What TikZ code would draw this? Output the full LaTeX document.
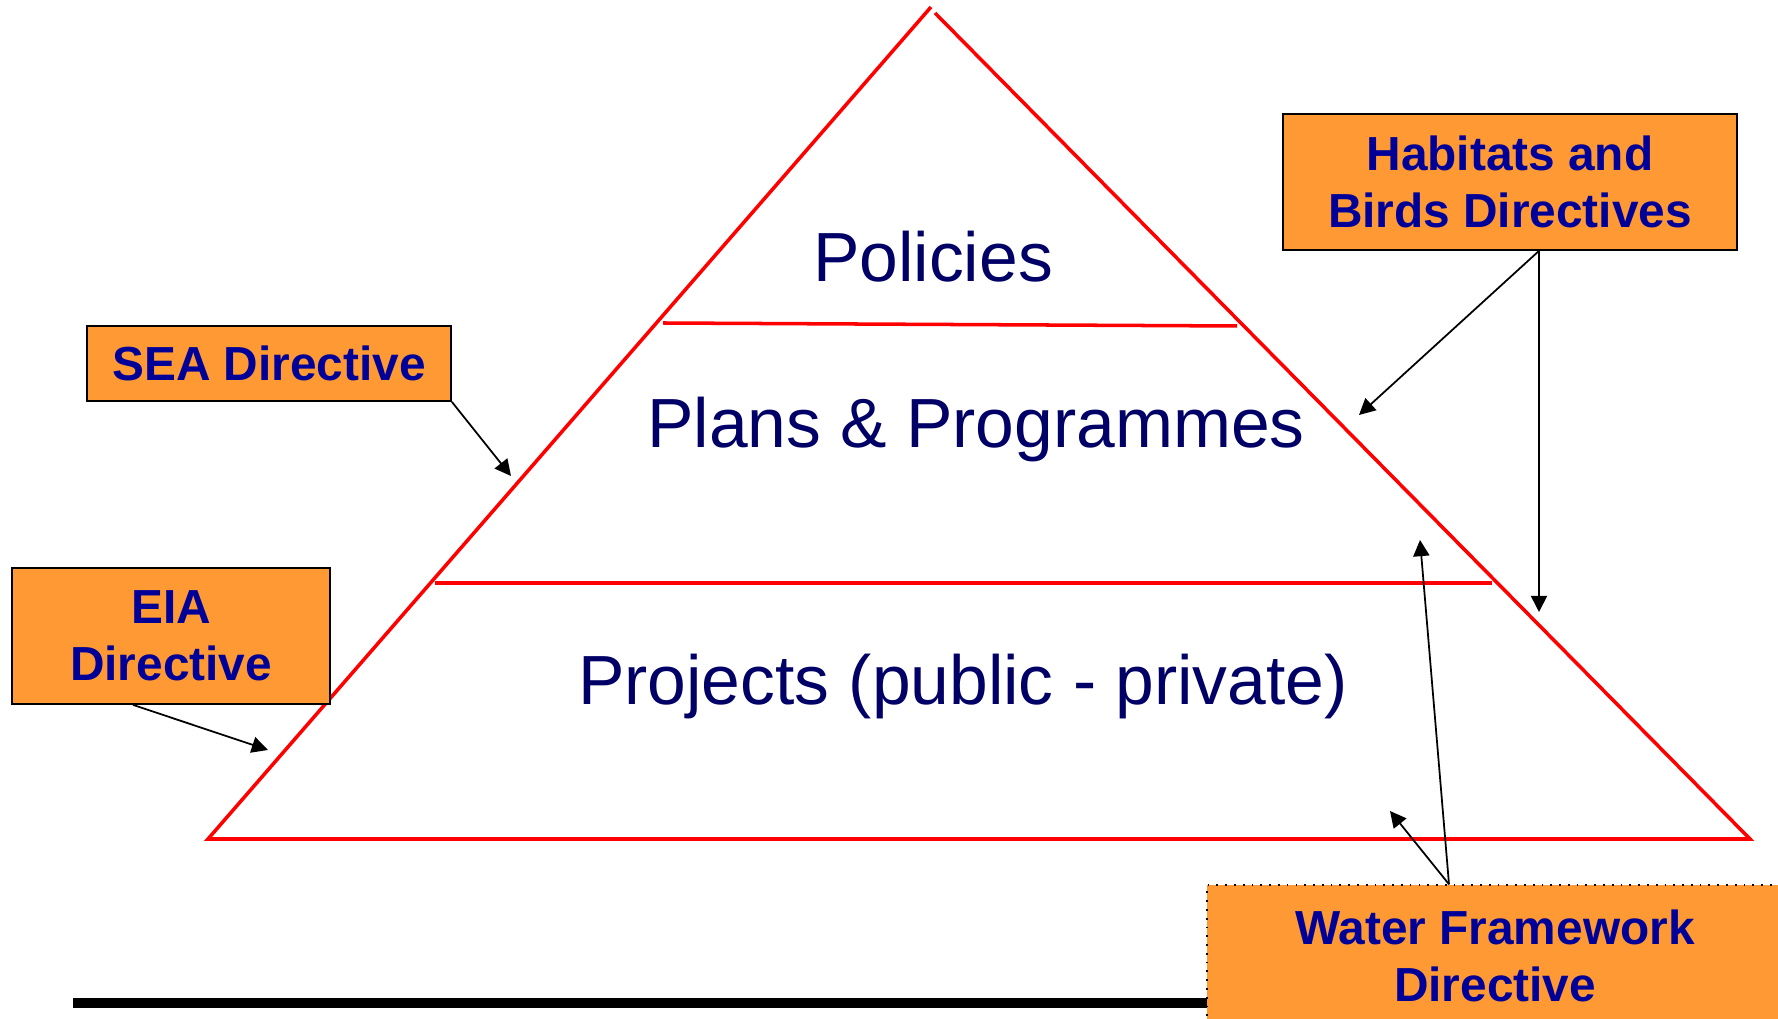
\documentclass[tikz,border=0pt]{standalone}
\usepackage{fontspec}
\setmainfont{Liberation Sans}
\usepackage{tikz}
\usetikzlibrary{arrows.meta, calc}

\definecolor{boxorange}{RGB}{255,153,51}
\definecolor{boxblue}{RGB}{0,0,153}
\definecolor{pyrblue}{RGB}{0,0,102}

\tikzset{
  redline/.style={red, line width=1pt},
  pyrlabel/.style={anchor=base, text=pyrblue, font=\fontsize{19.8}{23.8}\selectfont},
  directive/.style={draw=black, line width=0.5pt, fill=boxorange, text=boxblue,
    align=center, inner sep=0pt, font=\fontsize{13.6}{16.2}\selectfont\bfseries},
  pointer/.style={-{Triangle[length=4.6pt, width=4.6pt]}, black, line width=0.5pt}
}

\begin{document}
\begin{tikzpicture}
\clip (0, 0) rectangle (17.78, 10.19);
\fill[white] (0, 0) rectangle (17.78, 10.19);

% Pyramid.
\coordinate (apexL) at (9.31, 10.12);
\coordinate (apexR) at (9.35, 10.06);
\coordinate (baseL) at (2.08, 1.80);
\coordinate (baseR) at (17.50, 1.80);

\draw[redline] (apexL) -- (baseL) -- (baseR) -- (apexR);
\draw[redline] (6.63, 6.96) -- (12.37, 6.93);
\draw[redline] (4.35, 4.36) -- (14.92, 4.36);

\node[pyrlabel] (policies) at (9.33, 7.37) {Policies};
\node[pyrlabel] (plans) at (9.76, 5.71) {Plans \& Programmes};
\node[pyrlabel] (projects) at (9.63, 3.14) {Projects (public - private)};

% Bottom rule.
\draw[black, line width=2.83pt] (0.73, 0.16) -- (12.07, 0.16);

% Directives.
\node[directive, minimum width=3.64cm, minimum height=0.75cm] (sea) at (2.69, 6.555) {SEA Directive};
\node[directive, minimum width=3.18cm, minimum height=1.36cm] (eia) at (1.71, 3.83) {EIA\\Directive};
\node[directive, minimum width=4.54cm, minimum height=1.36cm] (hab) at (15.10, 8.37) {Habitats and\\Birds Directives};
\node[directive, dotted, line width=0.4pt, minimum width=5.76cm, minimum height=1.42cm] (wfd) at (14.95, 0.63) {Water Framework\\Directive};

\coordinate (seaTip) at (5.11, 5.43);
\coordinate (eiaTip) at (2.68, 2.69);
\coordinate (habTipA) at (13.59, 6.04);
\coordinate (habTipB) at (15.39, 4.07);
\coordinate (wfdTipA) at (14.20, 4.79);
\coordinate (wfdTipB) at (13.90, 2.08);

% Draw pointers.
\draw[pointer] (sea.south east) -- (seaTip);
\draw[pointer] ($(eia.south)+(-0.38, 0)$) -- (eiaTip);
\draw[pointer] ($(hab.south)+(0.29, 0)$) -- (habTipA);
\draw[pointer] ($(hab.south)+(0.29, 0)$) -- (habTipB);
\draw[pointer] ($(wfd.north)+(-0.46, 0)$) -- (wfdTipA);
\draw[pointer] ($(wfd.north)+(-0.46, 0)$) -- (wfdTipB);

\end{tikzpicture}
\end{document}
